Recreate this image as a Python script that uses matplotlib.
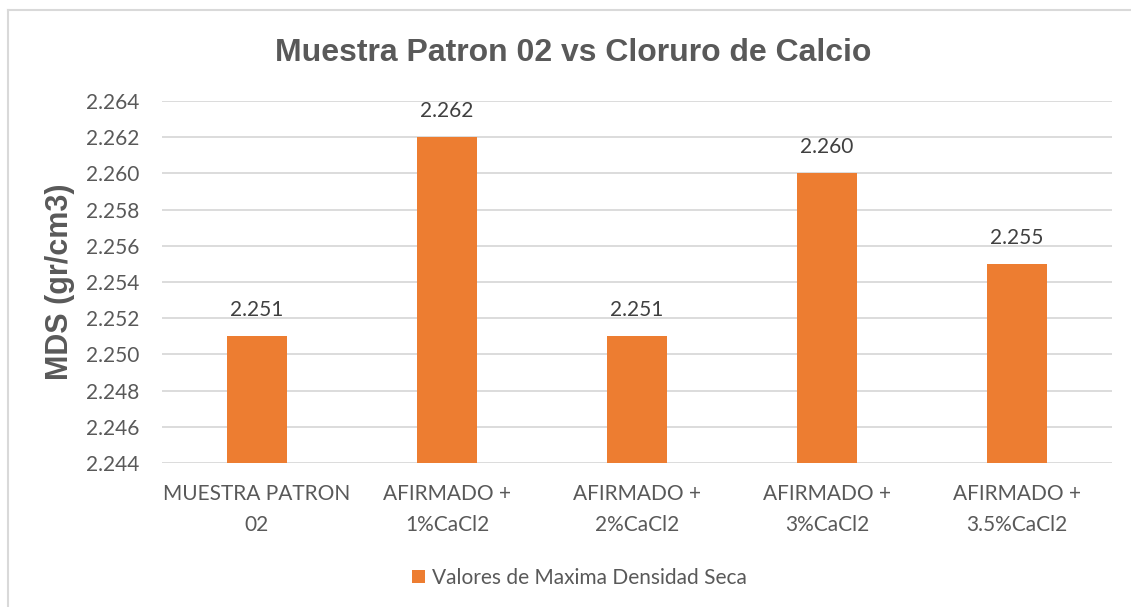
import matplotlib.pyplot as plt
from matplotlib.lines import Line2D

# datos
categorias = ['MUESTRA PATRON\n02', 'AFIRMADO +\n1%CaCl2', 'AFIRMADO +\n2%CaCl2',
              'AFIRMADO +\n3%CaCl2', 'AFIRMADO +\n3.5%CaCl2']
mds = [2.251, 2.262, 2.251, 2.260, 2.255]
yticks = [2.244, 2.246, 2.248, 2.250, 2.252, 2.254, 2.256, 2.258, 2.260, 2.262, 2.264]
serie = 'Valores de Maxima Densidad Seca'

gris = '#595959'
naranja = '#ED7D31'

fig = plt.figure(figsize=(11.31, 6.07), dpi=100)
ax = fig.add_axes([0.1432, 0.2372, 0.8400, 0.5964])

x = range(len(categorias))
bars = ax.bar(x, mds, width=0.315, color=naranja, label=serie, zorder=3)
for b, v in zip(bars, mds):
    ax.text(b.get_x() + b.get_width() / 2, v + 0.0009, f'{v:.3f}', ha='center', va='bottom',
            fontsize=15, color='#404040', family='Lato')

ax.set_ylim(2.244, 2.264)
ax.set_xlim(-0.5, len(categorias) - 0.5)
ax.set_yticks(yticks)
ax.set_yticklabels([f'{t:.3f}' for t in yticks], family='Lato', fontsize=15, color=gris)
ax.set_xticks(list(x))
ax.set_xticklabels(categorias, family='Lato', fontsize=15, color=gris, linespacing=1.7)
ax.tick_params(axis='x', length=0, pad=15)
ax.tick_params(axis='y', length=0, pad=16)
ax.grid(axis='y', color='#D9D9D9', linewidth=1.3, zorder=0)
for s in ax.spines.values():
    s.set_visible(False)

ax.set_ylabel('MDS (gr/cm3)', family='Liberation Sans', fontsize=22, fontweight='bold',
              color=gris, labelpad=8)
fig.text(0.507, 0.912, 'Muestra Patron 02 vs Cloruro de Calcio', ha='center', va='center',
         family='Liberation Sans', fontsize=23, fontweight='bold', color=gris)

leg = fig.legend(loc='center', bbox_to_anchor=(0.512, 0.048), frameon=False,
                 prop={'family': 'Lato', 'size': 15}, handlelength=0.65, handleheight=0.65,
                 handletextpad=0.3)
for t in leg.get_texts():
    t.set_color(gris)

# borde del área del gráfico
bx, by = 8 / 1131, 1 - 10 / 607
fig.add_artist(Line2D([bx, bx], [0, by], color='#D9D9D9', linewidth=1.5, transform=fig.transFigure))
fig.add_artist(Line2D([bx, 1], [by, by], color='#D9D9D9', linewidth=1.5, transform=fig.transFigure))

fig.savefig('out.png', dpi=100, facecolor='white')
